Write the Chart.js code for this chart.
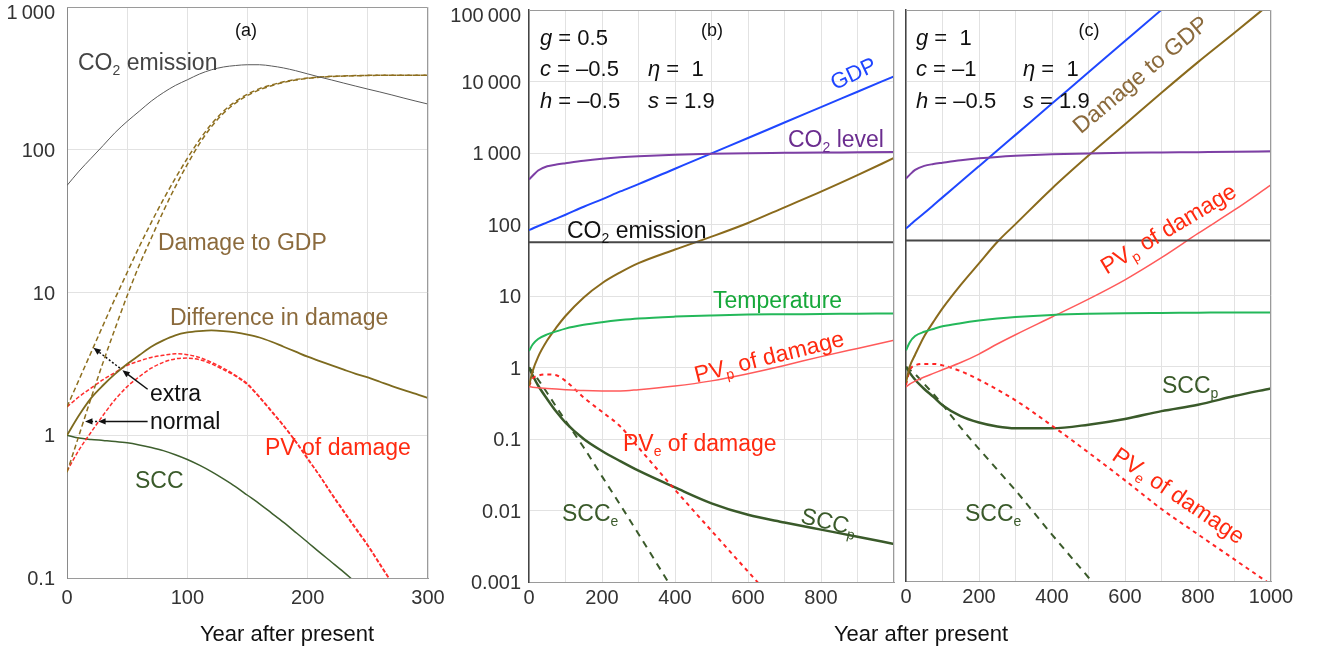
<!DOCTYPE html>
<html>
<head>
<meta charset="utf-8">
<script src="https://cdn.jsdelivr.net/npm/chart.js@4.4.1/dist/chart.umd.min.js"></script>
<style>
  html, body { margin: 0; padding: 0; background: #fff; }
  #wrap { position: relative; width: 1317px; height: 653px; }
  canvas { position: absolute; left: 0; top: 0; }
</style>
</head>
<body>
<div id="wrap">
  <canvas id="chartA" width="1317" height="653"></canvas>
  <canvas id="chartB" width="1317" height="653"></canvas>
  <canvas id="chartC" width="1317" height="653"></canvas>
</div>
<script>
const FONT = '"Liberation Sans", Arial, Helvetica, sans-serif';

// ---------- panel (a) ----------
const yearsA = [0, 10, 20, 30, 40, 50, 60, 70, 80, 90, 100, 110, 120, 130, 140, 150,
                160, 170, 180, 190, 200, 210, 220, 230, 240, 250, 260, 270, 280, 290, 300];
const co2EmissionA = [56.2, 70.8, 87.1, 107, 132, 158, 186, 219, 251, 282, 309, 339, 363, 380, 389, 394,
                      394, 386, 374, 358, 340, 323, 308, 293, 279, 266, 254, 242, 230, 219, 209];
const damageNormalA = [0.55, 1.0, 1.82, 3.24, 5.6, 9.5, 15.5, 24, 37, 55, 79, 110, 145, 180, 212, 240,
                       263, 281, 296, 308, 316, 322, 326, 328, 330, 331, 332, 332, 333, 333, 333];
const damageExtraA = [1.58, 2.45, 3.8, 5.9, 9.1, 13.8, 20.9, 30.9, 44.7, 63, 87, 117, 151, 186, 218, 245,
                      268, 285, 299, 310, 318, 323, 327, 329, 331, 332, 332, 333, 333, 333, 333];
const diffDamageA = [1.0, 1.38, 1.82, 2.24, 2.69, 3.16, 3.63, 4.17, 4.62, 5.01, 5.25, 5.37, 5.43, 5.37, 5.25, 5.07,
                     4.84, 4.52, 4.17, 3.85, 3.55, 3.31, 3.09, 2.88, 2.69, 2.54, 2.37, 2.21, 2.07, 1.95, 1.82];
const pvExtraA = [1.58, 1.86, 2.14, 2.45, 2.75, 3.09, 3.31, 3.51, 3.63, 3.72, 3.67, 3.51, 3.24, 2.95, 2.63, 2.29,
                  1.86, 1.48, 1.17, 0.91, 0.69, 0.52, 0.39, 0.295, 0.224, 0.17, 0.126, 0.093, 0.069, 0.05, 0.037];
const pvNormalA = [0.56, 0.79, 1.05, 1.38, 1.78, 2.19, 2.57, 2.95, 3.24, 3.43, 3.47, 3.39, 3.16, 2.88, 2.6, 2.26,
                   1.84, 1.46, 1.16, 0.90, 0.68, 0.52, 0.385, 0.29, 0.22, 0.168, 0.124, 0.092, 0.068, 0.05, 0.037];
const sccA = [1.0, 0.955, 0.935, 0.92, 0.905, 0.885, 0.855, 0.82, 0.78, 0.73, 0.676, 0.617, 0.556, 0.495, 0.437, 0.38,
              0.331, 0.285, 0.245, 0.209, 0.178, 0.151, 0.129, 0.11, 0.093, 0.079, 0.068, 0.058, 0.049, 0.042, 0.035];

// ---------- panel (b) ----------
const yearsBC = [0, 10, 25, 50, 75, 100, 150, 200, 250, 300, 400, 500, 600, 700, 800, 900, 1000];
const gdpB = [83, 88, 95, 107, 121, 137, 177, 225, 290, 367, 603, 990, 1620, 2670, 4380, 7190, 11800];
const co2LevelB = [427, 480, 570, 653, 690, 720, 780, 830, 870, 900, 945, 975, 995, 1005, 1015, 1022, 1030];
const co2EmissionB = [56.5, 56.5, 56.5, 56.5, 56.5, 56.5, 56.5, 56.5, 56.5, 56.5, 56.5, 56.5, 56.5, 56.5, 56.5, 56.5, 56.5];
const damageB = [0.55, 0.89, 1.41, 2.4, 3.63, 5.25, 9.55, 15.1, 21.4, 28.8, 44.7, 67.6, 105, 174, 288, 490, 851];
const temperatureB = [1.7, 2.1, 2.5, 2.9, 3.2, 3.5, 3.95, 4.3, 4.6, 4.85, 5.15, 5.35, 5.5, 5.55, 5.6, 5.65, 5.7];
const pvpB = [0.54, 0.53, 0.52, 0.51, 0.5, 0.49, 0.475, 0.47, 0.47, 0.49, 0.55, 0.65, 0.82, 1.07, 1.42, 1.85, 2.4];
const pveB = [0.55, 0.7, 0.77, 0.8, 0.78, 0.65, 0.38, 0.24, 0.15, 0.076, 0.0195, 0.0052, 0.0014, 0.00038, null, null, null];
const sccpB = [1.0, 0.78, 0.56, 0.36, 0.24, 0.17, 0.1, 0.068, 0.049, 0.036, 0.021, 0.0126, 0.0087, 0.0068, 0.0054, 0.0043, 0.0034];
const scceB = [1.0, 0.87, 0.68, 0.44, 0.28, 0.18, 0.076, 0.030, 0.012, 0.0047, 0.0007, null, null, null, null, null, null];

// ---------- panel (c) ----------
const gdpC = [87, 96, 112, 143, 184, 237, 392, 649, 1075, 1780, 4880, 13400, 36700, 100500, 275000, null, null];
const co2LevelC = [437, 490, 575, 655, 695, 725, 785, 835, 875, 905, 950, 980, 1000, 1010, 1020, 1030, 1050];
const co2EmissionC = [59, 59, 59, 59, 59, 59, 59, 59, 59, 59, 59, 59, 59, 59, 59, 59, 59];
const damageC = [0.6, 1.0, 1.48, 2.69, 4.27, 6.6, 14.1, 28.2, 56.2, 100, 316, 912, 2510, 6920, 18600, 47900, 126000];
const temperatureC = [1.7, 2.2, 2.7, 3.1, 3.4, 3.7, 4.1, 4.45, 4.75, 5.0, 5.35, 5.55, 5.65, 5.7, 5.75, 5.8, 5.8];
const pvpC = [0.52, 0.575, 0.63, 0.72, 0.81, 0.91, 1.15, 1.51, 2.09, 2.82, 5.0, 8.9, 16.6, 33.9, 74, 158, 355];
const pveC = [0.56, 0.89, 1.05, 1.1, 1.1, 1.05, 0.87, 0.66, 0.48, 0.34, 0.15, 0.063, 0.0257, 0.0102, 0.0045, 0.002, 0.00089];
const sccpC = [1.0, 0.83, 0.66, 0.49, 0.38, 0.29, 0.204, 0.166, 0.146, 0.138, 0.138, 0.155, 0.186, 0.24, 0.295, 0.39, 0.5];
const scceC = [1.0, 0.91, 0.79, 0.575, 0.417, 0.295, 0.141, 0.0708, 0.0363, 0.0186, 0.00447, 0.00112, 0.00028, null, null, null, null];

// ---------- ticks ----------
const yTicksA = [0.1, 1, 10, 100, 1000];
const yLabelsA = ['0.1', '1', '10', '100', '1\u2009000'];
const xGridA = [0, 50, 100, 150, 200, 250, 300];
const xLabelsA = [0, 100, 200, 300];
const yTicksBC = [0.001, 0.01, 0.1, 1, 10, 100, 1000, 10000, 100000];
const yLabelsBC = ['0.001', '0.01', '0.1', '1', '10', '100', '1\u2009000', '10\u2009000', '100\u2009000'];
const xGridBC = [0, 100, 200, 300, 400, 500, 600, 700, 800, 900, 1000];
const xLabelsB = [0, 200, 400, 600, 800];
const xLabelsC = [0, 200, 400, 600, 800, 1000];

// arrows of panel (a), in data coordinates [year, value]
const arrowsA = [
  { from: [67, 2.1], to: [46, 2.85], dash: [] },
  { from: [44, 2.95], to: [22, 4.1], dash: [2, 2] },
  { from: [67, 1.25], to: [26, 1.25], dash: [] },
  { from: [25, 1.25], to: [15, 1.25], dash: [2, 2] }
];

function pts(xs, ys) {
  return xs.map((x, i) => ({ x: x, y: ys[i] })).filter(p => p.y != null);
}

function line(data, color, width, dash) {
  return {
    data: data, borderColor: color, borderWidth: width, borderDash: dash || [],
    pointRadius: 0, fill: false, cubicInterpolationMode: 'monotone'
  };
}

function richText(ctx, n) {
  const size = n.size || 23;
  const fontFor = st => (st === 'i' ? 'italic ' : '') + (st === 's' ? Math.round(size * 0.62) : size) + 'px ' + FONT;
  ctx.save();
  ctx.translate(n.x, n.y);
  if (n.rot) ctx.rotate(n.rot * Math.PI / 180);
  ctx.fillStyle = n.color || '#111';
  ctx.textBaseline = 'alphabetic';
  ctx.textAlign = 'left';
  let w = 0;
  n.parts.forEach(p => { ctx.font = fontFor(p[1]); w += ctx.measureText(p[0]).width; });
  let cx = n.align === 'center' ? -w / 2 : (n.align === 'right' ? -w : 0);
  const base = size * 0.36;
  n.parts.forEach(p => {
    ctx.font = fontFor(p[1]);
    ctx.fillText(p[0], cx, base + (p[1] === 's' ? size * 0.2 : 0));
    cx += ctx.measureText(p[0]).width;
  });
  ctx.restore();
}

function arrow(ctx, x1, y1, x2, y2, dash) {
  const ang = Math.atan2(y2 - y1, x2 - x1);
  const hl = 8;
  ctx.save();
  ctx.strokeStyle = '#111';
  ctx.fillStyle = '#111';
  ctx.lineWidth = 1.5;
  ctx.setLineDash(dash);
  ctx.beginPath();
  ctx.moveTo(x1, y1);
  ctx.lineTo(x2 - Math.cos(ang) * hl * 0.8, y2 - Math.sin(ang) * hl * 0.8);
  ctx.stroke();
  ctx.setLineDash([]);
  ctx.beginPath();
  ctx.moveTo(x2, y2);
  ctx.lineTo(x2 - hl * Math.cos(ang - 0.4), y2 - hl * Math.sin(ang - 0.4));
  ctx.lineTo(x2 - hl * Math.cos(ang + 0.4), y2 - hl * Math.sin(ang + 0.4));
  ctx.closePath();
  ctx.fill();
  ctx.restore();
}

const framePlugin = {
  id: 'frame',
  afterDatasetsDraw(chart) {
    const a = chart.chartArea, ctx = chart.ctx;
    ctx.save();
    ctx.strokeStyle = '#9a9a9a';
    ctx.lineWidth = 1;
    ctx.beginPath();
    ctx.moveTo(a.left, a.top + 0.5);
    ctx.lineTo(a.right - 0.5, a.top + 0.5);
    ctx.lineTo(a.right - 0.5, a.bottom);
    ctx.stroke();
    ctx.restore();
  }
};

// y tick labels are placed through the y scale, but kept inside the page at the top
function notesPlugin(id, notes, arrows, yAxis) {
  return {
    id: id,
    afterDraw(chart) {
      const ctx = chart.ctx;
      const xs = chart.scales.x, ys = chart.scales.y;
      if (yAxis) {
        yAxis.ticks.forEach((v, i) => richText(ctx, {
          parts: [[yAxis.labels[i]]], size: 20, color: '#333', align: 'right',
          x: chart.chartArea.left - yAxis.pad,
          y: Math.max(ys.getPixelForValue(v), yAxis.minY)
        }));
      }
      if (arrows) {
        arrows.forEach(a => arrow(ctx,
          xs.getPixelForValue(a.from[0]), ys.getPixelForValue(a.from[1]),
          xs.getPixelForValue(a.to[0]), ys.getPixelForValue(a.to[1]), a.dash));
      }
      notes.forEach(n => richText(ctx, n));
    }
  };
}

function makeOptions(cfg) {
  return {
    responsive: false,
    animation: false,
    devicePixelRatio: 1,
    layout: { padding: cfg.padding },
    plugins: { legend: { display: false }, tooltip: { enabled: false } },
    scales: {
      x: {
        type: 'linear', min: cfg.xMin, max: cfg.xMax,
        afterBuildTicks: s => { s.ticks = cfg.xGrid.map(v => ({ value: v })); },
        afterFit: s => { s.height = cfg.xHeight; s.paddingLeft = 0; s.paddingRight = 0; },
        grid: { color: '#e2e2e2', drawTicks: false },
        border: { color: '#9a9a9a', width: 1 },
        ticks: {
          padding: cfg.xPad, color: '#333', font: { family: FONT, size: 20 },
          maxRotation: 0, autoSkip: false,
          callback: v => cfg.xLabels.includes(v) ? String(v) : ''
        }
      },
      y: {
        type: 'logarithmic', min: cfg.yMin, max: cfg.yMax,
        afterBuildTicks: s => { s.ticks = cfg.yTicks.map(v => ({ value: v })); },
        afterFit: s => { s.width = cfg.yWidth; s.paddingTop = 0; s.paddingBottom = 0; },
        grid: { color: '#e2e2e2', drawTicks: false },
        border: { color: cfg.yBorder, width: cfg.yBorderW },
        ticks: { display: false }
      }
    }
  };
}

const RED = '#ff2a10', GREEN = '#3a5a2a', BROWN = '#8b6a3c';

// ---------- chart (a) ----------
const notesA = [
  { parts: [['(a)']], x: 246, y: 30, size: 18, align: 'center' },
  { parts: [['CO'], ['2', 's'], [' emission']], x: 78, y: 62, color: '#444' },
  { parts: [['Damage to GDP']], x: 158, y: 242, color: BROWN },
  { parts: [['Difference in damage']], x: 170, y: 317, color: BROWN },
  { parts: [['extra']], x: 150, y: 393 },
  { parts: [['normal']], x: 150, y: 421 },
  { parts: [['PV of damage']], x: 265, y: 447, color: RED },
  { parts: [['SCC']], x: 135, y: 480, color: GREEN },
  { parts: [['Year after present']], x: 287, y: 633, size: 22, align: 'center' }
];

new Chart(document.getElementById('chartA'), {
  type: 'line',
  data: {
    datasets: [
      line(pts(yearsA, co2EmissionA), '#5a5a5a', 1),
      line(pts(yearsA, damageExtraA), '#8d6e1e', 1.5, [5, 3]),
      line(pts(yearsA, damageNormalA), '#8d6e1e', 1.5, [5, 3]),
      line(pts(yearsA, diffDamageA), '#7d6a1e', 1.8),
      line(pts(yearsA, pvExtraA), '#ff2d2d', 1.5, [4, 2]),
      line(pts(yearsA, pvNormalA), '#ff2d2d', 1.5, [4, 2]),
      line(pts(yearsA, sccA), '#3e5f2e', 1.5)
    ]
  },
  options: makeOptions({
    padding: { left: 0, right: 1317 - 428, top: 7, bottom: 0 },
    xMin: 0, xMax: 300, xGrid: xGridA, xLabels: xLabelsA, xHeight: 75, xPad: 8,
    yMin: 0.1, yMax: 1000, yTicks: yTicksA, yWidth: 67,
    yBorder: '#8a8a8a', yBorderW: 1
  }),
  plugins: [framePlugin, notesPlugin('notesA', notesA, arrowsA,
    { ticks: yTicksA, labels: yLabelsA, pad: 12, minY: 12 })]
});

// ---------- chart (b) ----------
const notesB = [
  { parts: [['(b)']], x: 712, y: 30, size: 18, align: 'center' },
  { parts: [['g', 'i'], [' = 0.5']], x: 540, y: 37, size: 22 },
  { parts: [['c', 'i'], [' = \u20130.5']], x: 540, y: 68, size: 22 },
  { parts: [['\u03b7', 'i'], [' =  1']], x: 648, y: 68, size: 22 },
  { parts: [['h', 'i'], [' = \u20130.5']], x: 540, y: 100, size: 22 },
  { parts: [['s', 'i'], [' = 1.9']], x: 648, y: 100, size: 22 },
  { parts: [['GDP']], x: 853, y: 73, size: 22, rot: -25, align: 'center', color: '#1f45ff' },
  { parts: [['CO'], ['2', 's'], [' level']], x: 788, y: 139, color: '#6b2d8f' },
  { parts: [['CO'], ['2', 's'], [' emission']], x: 567, y: 230 },
  { parts: [['Temperature']], x: 713, y: 300, color: '#16a83a' },
  { parts: [['PV'], ['p', 's'], [' of damage']], x: 769, y: 356, rot: -14, align: 'center', color: RED },
  { parts: [['PV'], ['e', 's'], [' of damage']], x: 623, y: 443, color: RED },
  { parts: [['SCC'], ['e', 's']], x: 562, y: 513, color: GREEN },
  { parts: [['SCC'], ['p', 's']], x: 829, y: 521, rot: 13, align: 'center', color: GREEN }
];

function bcDatasets(gdp, lev, em, dam, temp, pvp, pve, sccp, scce) {
  return [
    line(pts(yearsBC, lev), '#7d3fa5', 2),
    line(pts(yearsBC, em), '#474747', 2),
    line(pts(yearsBC, gdp), '#1f47ff', 2),
    line(pts(yearsBC, temp), '#24b85a', 2),
    line(pts(yearsBC, dam), '#8a6a1c', 2),
    line(pts(yearsBC, pvp), '#ff5a5a', 1.5),
    line(pts(yearsBC, pve), '#ff2424', 2, [4, 4]),
    line(pts(yearsBC, scce), GREEN, 2, [7, 6]),
    line(pts(yearsBC, sccp), GREEN, 2.5)
  ];
}

new Chart(document.getElementById('chartB'), {
  type: 'line',
  data: { datasets: bcDatasets(gdpB, co2LevelB, co2EmissionB, damageB, temperatureB, pvpB, pveB, sccpB, scceB) },
  options: makeOptions({
    padding: { left: 529 - 100, right: 1317 - 894, top: 10, bottom: 0 },
    xMin: 0, xMax: 1000, xGrid: xGridBC, xLabels: xLabelsB, xHeight: 71, xPad: 4,
    yMin: 0.001, yMax: 100000, yTicks: yTicksBC, yWidth: 100,
    yBorder: '#444', yBorderW: 1.5
  }),
  plugins: [framePlugin, notesPlugin('notesB', notesB, null,
    { ticks: yTicksBC, labels: yLabelsBC, pad: 8, minY: 15 })]
});

// ---------- chart (c) ----------
const notesC = [
  { parts: [['(c)']], x: 1089, y: 30, size: 18, align: 'center' },
  { parts: [['g', 'i'], [' =  1']], x: 916, y: 37, size: 22 },
  { parts: [['c', 'i'], [' = \u20131']], x: 916, y: 68, size: 22 },
  { parts: [['\u03b7', 'i'], [' =  1']], x: 1023, y: 68, size: 22 },
  { parts: [['h', 'i'], [' = \u20130.5']], x: 916, y: 100, size: 22 },
  { parts: [['s', 'i'], [' = 1.9']], x: 1023, y: 100, size: 22 },
  { parts: [['Damage to GDP']], x: 1140, y: 74, rot: -40, align: 'center', color: BROWN },
  { parts: [['PV'], ['p', 's'], [' of damage']], x: 1168, y: 228, rot: -31, align: 'center', color: RED },
  { parts: [['SCC'], ['p', 's']], x: 1162, y: 385, color: GREEN },
  { parts: [['PV'], ['e', 's'], [' of damage']], x: 1179, y: 495, rot: 34, align: 'center', color: RED },
  { parts: [['SCC'], ['e', 's']], x: 965, y: 513, color: GREEN },
  { parts: [['Year after present']], x: 921, y: 633, size: 22, align: 'center' }
];

new Chart(document.getElementById('chartC'), {
  type: 'line',
  data: { datasets: bcDatasets(gdpC, co2LevelC, co2EmissionC, damageC, temperatureC, pvpC, pveC, sccpC, scceC) },
  options: makeOptions({
    padding: { left: 906, right: 1317 - 1271, top: 10, bottom: 0 },
    xMin: 0, xMax: 1000, xGrid: xGridBC, xLabels: xLabelsC, xHeight: 72, xPad: 4,
    yMin: 0.001, yMax: 100000, yTicks: yTicksBC, yWidth: 0,
    yBorder: '#444', yBorderW: 1.5
  }),
  plugins: [framePlugin, notesPlugin('notesC', notesC)]
});
</script>
</body>
</html>
